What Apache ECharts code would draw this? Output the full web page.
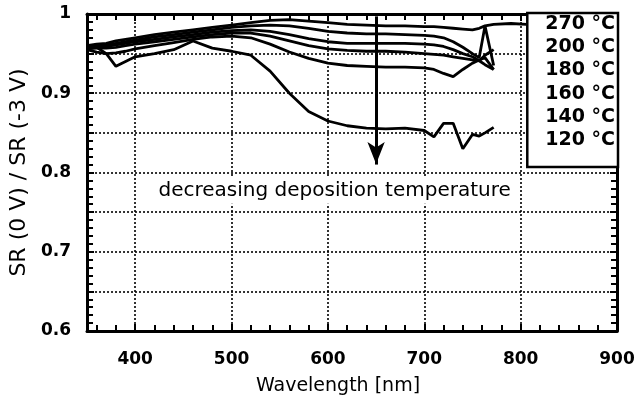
<!DOCTYPE html>
<html><head><meta charset="utf-8">
<script src="https://cdn.jsdelivr.net/npm/echarts@6/dist/echarts.min.js"></script>
<style>html,body{margin:0;padding:0;background:#fff}#c{width:640px;height:401px}</style>
</head><body><div id="c"></div>
<script>
const wavelengths = [350,360,370,380,390,400,420,440,460,480,500,520,540,560,580,600,620,640,660,680,700,710,720,730,740,750,757,763,772,790,806];
const temps = ['270 °C','200 °C','180 °C','160 °C','140 °C','120 °C'];
const sr270 = [.960,.962,.963,.966,.968,.970,.974,.977,.980,.983,.986,.989,.992,.993,.991,.989,.987,.986,.985,.985,.984,.984,.983,.982,.981,.980,.982,.985,.987,.988,.987];
const sr200 = [.958,.960,.961,.963,.965,.967,.971,.974,.977,.980,.983,.985,.986,.985,.982,.978,.976,.975,.975,.974,.973,.972,.970,.965,.958,.950,.945,.985,.935,null,null];
const sr180 = [.957,.958,.959,.961,.963,.965,.968,.971,.974,.977,.979,.980,.978,.974,.969,.965,.963,.963,.963,.963,.962,.961,.959,.955,.950,.946,.941,.948,.955,null,null];
const sr160 = [.956,.957,.957,.958,.960,.962,.965,.968,.971,.974,.976,.976,.972,.966,.960,.956,.954,.953,.953,.952,.950,.949,.948,.946,.944,.942,.941,.936,.930,null,null];
const sr140 = [.955,.952,.950,.951,.953,.956,.960,.964,.968,.971,.972,.970,.962,.952,.944,.938,.935,.934,.933,.933,.932,.930,.925,.921,.930,.938,.942,.945,.930,null,null];
const sr120 = [.960,.958,.950,.934,.940,.946,.950,.955,.966,.957,.953,.948,.928,.900,.877,.865,.859,.856,.855,.856,.853,.845,.862,.862,.830,.848,.846,.850,.857,null,null];
const allValues = [sr270, sr200, sr180, sr160, sr140, sr120];
const xTickLabels = ['400','500','600','700','800','900'];
const yTickLabels = ['0.6','0.7','0.8','0.9','1'];
const arrowX = 650, arrowFrom = 0.997, arrowTo = 0.81, arrowTip = 0.797;
const noteText = 'decreasing deposition temperature';
const notePos = [607, 0.777];

const FF = 'DejaVu Sans';
const chart = echarts.init(document.getElementById('c'), null, {renderer: 'canvas'});

const axisLine = {show: true, onZero: false, lineStyle: {color: '#000', width: 3}};
const tickStyle = {show: true, inside: true, length: 7, lineStyle: {color: '#000', width: 2}};
const minor = {show: true, splitNumber: 5, length: 6, lineStyle: {color: '#000', width: 2}};
const grid = {show: true, lineStyle: {color: '#000', width: 1.6, type: [2, 2]}};

const series = temps.map((t, k) => ({
  name: t, type: 'line', symbol: 'none', z: 3,
  lineStyle: {color: '#000', width: 2.8},
  itemStyle: {color: '#000'},
  data: wavelengths.map((w, i) => [w, allValues[k][i]])
}));
series.push({
  name: 'annot', type: 'line', data: [], z: 4,
  markLine: {
    silent: true, animation: false,
    symbol: 'none',
    lineStyle: {color: '#000', width: 3, type: 'solid'},
    label: {show: false},
    data: [[{coord: [arrowX, arrowFrom]}, {coord: [arrowX, arrowTo]}]]
  },
  markPoint: {
    silent: true, animation: false,
    data: [
      {coord: [arrowX, arrowTip], symbol: 'arrow', symbolSize: [13, 22], symbolRotate: 180,
       symbolOffset: [0, -11], itemStyle: {color: '#000'}, label: {show: false}},
      {coord: notePos, symbol: 'rect', symbolSize: 1, itemStyle: {color: 'rgba(0,0,0,0)'},
       label: {show: true, position: 'inside', formatter: noteText, color: '#000',
         fontFamily: FF, fontSize: 20, backgroundColor: '#fff', padding: [3, 4]}}
    ]
  }
});

chart.setOption({
  animation: false,
  backgroundColor: '#fff',
  grid: {left: 84, right: 23, top: 14, bottom: 70},
  legend: {
    data: temps, orient: 'vertical', right: 22, top: 13,
    itemWidth: 0, itemHeight: 0, itemGap: 3.2, selectedMode: false,
    padding: [1, 3, 17, 12],
    backgroundColor: '#fff', borderColor: '#000', borderWidth: 2.5,
    textStyle: {color: '#000', fontFamily: FF, fontWeight: 'bold', fontSize: 19, lineHeight: 20},
    z: 10
  },
  xAxis: [{
    type: 'value', min: 350, max: 900, position: 'bottom',
    name: 'Wavelength [nm]', nameLocation: 'middle', nameGap: 46,
    nameTextStyle: {color: '#000', fontFamily: FF, fontSize: 19, padding: [0, 28, 0, 0]},
    axisLine, axisTick: tickStyle, minorTick: minor, splitLine: grid,
    axisLabel: {color: '#000', fontFamily: FF, fontWeight: 'bold', fontSize: 17, margin: 20,
      formatter: v => xTickLabels.includes(String(v)) ? String(v) : ''}
  }, {
    type: 'value', min: 350, max: 900, position: 'top',
    axisLine, axisTick: tickStyle, minorTick: minor, splitLine: {show: false},
    axisLabel: {show: false}
  }],
  yAxis: [{
    type: 'value', min: 0.6, max: 1.0, interval: 0.05, position: 'left',
    name: 'SR (0 V) / SR (-3 V)', nameLocation: 'middle', nameGap: 51,
    nameTextStyle: {color: '#000', fontFamily: FF, fontSize: 22},
    axisLine, axisTick: tickStyle, minorTick: minor, splitLine: grid,
    axisLabel: {color: '#000', fontFamily: FF, fontWeight: 'bold', fontSize: 17, margin: 16,
      formatter: v => { const s = String(+v.toFixed(2)); return yTickLabels.includes(s) ? s : ''; }}
  }, {
    type: 'value', min: 0.6, max: 1.0, interval: 0.05, position: 'right',
    axisLine, axisTick: tickStyle, minorTick: minor, splitLine: {show: false},
    axisLabel: {show: false}
  }],
  series
});
</script></body></html>
